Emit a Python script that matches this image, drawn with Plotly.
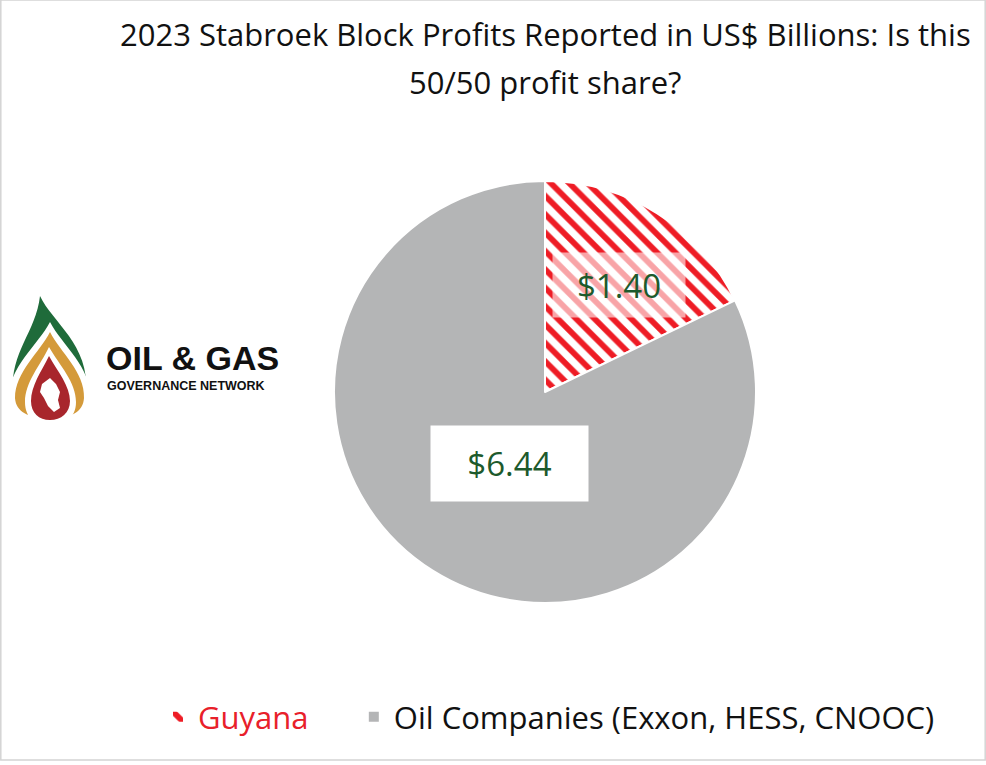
import math
import plotly.graph_objects as go

# data
labels = ["Guyana", "Oil Companies (Exxon, HESS, CNOOC)"]
profits = [1.40, 6.44]
label_colors = ["#e8202a", "#111111"]
title_lines = ["2023 Stabroek Block Profits Reported in US$ Billions: Is this", "50/50 profit share?"]

W, H = 986, 765

def px(x, y):
    return x / W, 1 - y / H

def path(pts):
    # pts: list of segments in pixel coords -> svg path in paper coords
    out = []
    for cmd, coords in pts:
        cs = []
        for i in range(0, len(coords), 2):
            a, b = px(coords[i], coords[i + 1])
            cs.append(f"{a:.5f},{b:.5f}")
        out.append(cmd + " " + " ".join(cs))
    return " ".join(out) + " Z"

fig = go.Figure()

# pie geometry
cx, cy, r = 545, 392, 211
dx0, dy0 = px(cx - r, cy + r)
dx1, dy1 = px(cx + r, cy - r)

# legend text: coloured, with extra gap after the first entry
legend_names = [f"<span style='color:{label_colors[0]}'>{labels[0]}</span>" + "&nbsp;" * 5,
                f"<span style='color:{label_colors[1]}'>{labels[1]}</span>"]

fig.add_trace(go.Pie(
    labels=legend_names,
    values=profits,
    sort=False,
    direction="clockwise",
    rotation=0,
    textinfo="none",
    hoverinfo="label+value",
    marker=dict(
        colors=["white", "#b4b5b6"],
        line=dict(color="white", width=2),
        pattern=dict(shape=["\\", ""], fgcolor=["#ee1c25", "#b4b5b6"],
                     bgcolor=["white", "#b4b5b6"], size=13, solidity=0.45),
    ),
    domain=dict(x=[dx0, dx1], y=[dy0, dy1]),
))

# value labels placed at slice mid-angles
total = sum(profits)
cum = 0
annotations = []
rad_frac = [0.60, 0.40]
boxes = [(130, 62, "rgba(255,255,255,0.6)", 7), (155, 73, "white", 9)]
for i, v in enumerate(profits):
    mid = (cum + v / 2) / total * 2 * math.pi
    cum += v
    lx = cx + r * rad_frac[i] * math.sin(mid)
    ly = cy - r * rad_frac[i] * math.cos(mid)
    ax, ay = px(lx, ly)
    bw, bh, bg, xs = boxes[i]
    annotations.append(dict(
        x=ax, y=ay, xref="paper", yref="paper", showarrow=False, xshift=xs,
        text=f"${v:.2f}", width=bw, height=bh, bgcolor=bg,
        font=dict(family="Open Sans", size=33, color="#1d5a2c"),
    ))

# title, two lines
for t, yy in zip(title_lines, [34, 82]):
    tx, ty = px(545, yy)
    annotations.append(dict(x=tx, y=ty, xref="paper", yref="paper", showarrow=False,
                            xanchor="center", yanchor="middle", text=t,
                            font=dict(family="Open Sans", size=31, color="#111111")))

# logo text
lx, ly = px(104, 358)
annotations.append(dict(x=lx, y=ly, xref="paper", yref="paper", showarrow=False,
                        xanchor="left", yanchor="middle", text="<b>OIL &amp; GAS</b>",
                        font=dict(family="Liberation Sans", size=34, color="#111111")))
lx, ly = px(105, 386)
annotations.append(dict(x=lx, y=ly, xref="paper", yref="paper", showarrow=False,
                        xanchor="left", yanchor="middle", text="<b>GOVERNANCE NETWORK</b>",
                        font=dict(family="Liberation Sans", size=12.5, color="#111111")))

# logo flame shapes
green = path([("M", [40, 296]), ("C", [52, 322, 90, 345, 86, 392]), ("L", [13, 392]),
              ("C", [10, 352, 36, 332, 40, 296])])
gap1 = path([("M", [50, 322]), ("C", [62, 345, 92, 368, 90, 398]), ("L", [90, 425]), ("L", [9, 425]),
             ("L", [9, 398]), ("C", [8, 368, 38, 345, 50, 322])])
gold = path([("M", [50, 332]), ("C", [60, 352, 85, 372, 84, 398]), ("C", [83, 412, 72, 418, 50, 418]),
             ("C", [28, 418, 16, 412, 15, 398]), ("C", [15, 372, 40, 352, 50, 332])])
gap2 = path([("M", [49, 347]), ("C", [60, 366, 76, 382, 76, 402]), ("C", [76, 418, 64, 426, 50, 426]),
             ("C", [36, 426, 25, 418, 25, 402]), ("C", [25, 382, 40, 366, 49, 347])])
red = path([("M", [49, 356]), ("C", [58, 372, 70, 386, 70, 401]), ("C", [70, 413, 61, 420, 50, 420]),
            ("C", [39, 420, 31, 413, 31, 401]), ("C", [31, 386, 41, 372, 49, 356])])
guy = path([("M", [42, 384]), ("L", [50, 378]), ("L", [56, 384]), ("L", [60, 392]), ("L", [58, 400]),
            ("L", [60, 408]), ("L", [54, 412]), ("L", [48, 406]), ("L", [44, 398]), ("L", [40, 392])])

shapes = []
for p, c in [(green, "#1f6b3a"), (gap1, "white"), (gold, "#d49a3a"), (gap2, "white"),
             (red, "#a8262c"), (guy, "white")]:
    shapes.append(dict(type="path", path=p, xref="paper", yref="paper",
                       fillcolor=c, line=dict(width=0)))

# outer frame
fx0, fy0 = px(0.8, 760)
fx1, fy1 = px(985.2, 0)
shapes.append(dict(type="rect", xref="paper", yref="paper", x0=fx0, y0=fy0, x1=fx1, y1=fy1,
                   line=dict(color="#d4d4d4", width=1.5)))

fig.update_layout(
    width=W, height=H,
    margin=dict(l=0, r=0, t=0, b=0),
    paper_bgcolor="white",
    plot_bgcolor="white",
    legend=dict(orientation="h", x=158 / W, xanchor="left", y=1 - 717 / H, yanchor="middle",
                font=dict(family="Open Sans", size=31, color="#111111"),
                itemsizing="constant", traceorder="normal"),
    shapes=shapes,
    annotations=annotations,
)

fig.write_html("out.html", post_script="document.body.style.margin='0';",
               config={"displayModeBar": False})
